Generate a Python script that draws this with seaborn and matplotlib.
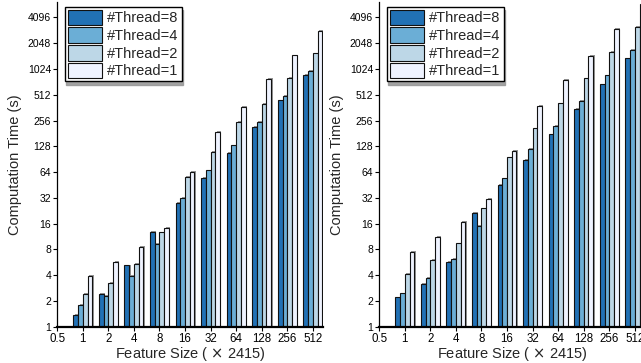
import matplotlib
matplotlib.use("Agg")
import matplotlib.pyplot as plt
import matplotlib.patheffects as pe
import seaborn as sns
import pandas as pd

sizes = ["1", "2", "4", "8", "16", "32", "64", "128", "256", "512"]
threads = ["#Thread=8", "#Thread=4", "#Thread=2", "#Thread=1"]

left_t8 = [1.37, 2.39, 5.2, 12.9, 28, 55, 108, 215, 440, 868]
left_t4 = [1.79, 2.28, 3.94, 9.25, 32, 67, 131, 244, 498, 968]
left_t2 = [2.39, 3.26, 5.36, 12.6, 56.5, 110, 244, 399, 803, 1553]
left_t1 = [3.91, 5.74, 8.6, 14.3, 64.5, 189, 370, 781, 1477, 2860]

right_t8 = [2.2, 3.13, 5.74, 21.1, 45.5, 88.5, 176, 348, 676, 1362]
right_t4 = [2.45, 3.73, 6.22, 15.0, 54, 119, 222, 432, 862, 1699]
right_t2 = [4.12, 5.96, 9.4, 24.1, 95, 207, 406, 795, 1626, 3190]
right_t1 = [7.5, 11.1, 16.8, 30.8, 113, 381, 760, 1449, 3018, 5900]

xtick_labels = ["0.5"] + sizes
ytick_values = [2 ** i for i in range(13)]
colors = ["#2171b5", "#6baed6", "#bdd7e7", "#eff3ff"]


def make_df(series):
    rows = []
    for name, vals in zip(threads, series):
        for s, v in zip(sizes, vals):
            rows.append({"size": s, "time": v, "thread": name})
    return pd.DataFrame(rows)


sns.set_theme(style="ticks")
plt.rcParams["font.family"] = ["Liberation Sans", "DejaVu Sans"]

fig = plt.figure(figsize=(6.41, 3.63), dpi=100)
W, H = 641, 363
ax_l = fig.add_axes([57.3 / W, (H - 326.7) / H, 265.7 / W, 324.7 / H])
ax_r = fig.add_axes([379.3 / W, (H - 326.7) / H, 265.7 / W, 324.7 / H])

for ax, series in [(ax_l, [left_t8, left_t4, left_t2, left_t1]),
                   (ax_r, [right_t8, right_t4, right_t2, right_t1])]:
    df = make_df(series)
    sns.barplot(data=df, x="size", y="time", hue="thread", hue_order=threads,
                order=sizes, palette=colors, width=0.74, errorbar=None,
                edgecolor="#111111", linewidth=0.8, ax=ax, log_scale=(False, 2),
                saturation=1)
    for p in ax.patches:
        p.set_path_effects([pe.SimplePatchShadow(offset=(1.0, 0.6), shadow_rgbFace="#888888", alpha=0.9),
                            pe.Normal()])
    ax.set_yscale("log", base=2)
    ax.set_ylim(1, 6200)
    ax.set_xlim(-1, 9.4)
    ax.set_yticks(ytick_values)
    ax.set_yticklabels([str(v) for v in ytick_values], fontsize=7.5)
    ax.minorticks_off()
    ax.set_xticks(range(-1, len(sizes)))
    ax.set_xticklabels(xtick_labels, fontsize=8.3)
    ax.tick_params(axis="both", direction="out", length=3, width=0.8, pad=1.5, colors="black")
    ax.set_xlabel("Feature Size ( $\\times$ 2415)", fontsize=10.5, labelpad=0)
    ax.set_ylabel("Computation Time (s)", fontsize=10.5, labelpad=4)
    sns.despine(ax=ax)
    ax.spines["left"].set_linewidth(0.9)
    ax.spines["bottom"].set_linewidth(1.6)
    ax.spines["left"].set_color("black")
    ax.spines["bottom"].set_color("black")
    ax.set_facecolor("white")
    leg = ax.legend(loc="upper left", bbox_to_anchor=(0.029, 0.985), borderaxespad=0,
                    fontsize=10.5, frameon=True, fancybox=False,
                    shadow={"ox": 1, "oy": -2.5, "color": "#999999", "alpha": 0.9},
                    handlelength=2.35, handleheight=1.25, handletextpad=0.35,
                    labelspacing=0.14, borderpad=0.2)
    leg.get_frame().set_edgecolor("black")
    leg.get_frame().set_linewidth(1.0)
    for h in leg.legend_handles:
        h.set_path_effects([])

fig.savefig("out.png", dpi=100)
